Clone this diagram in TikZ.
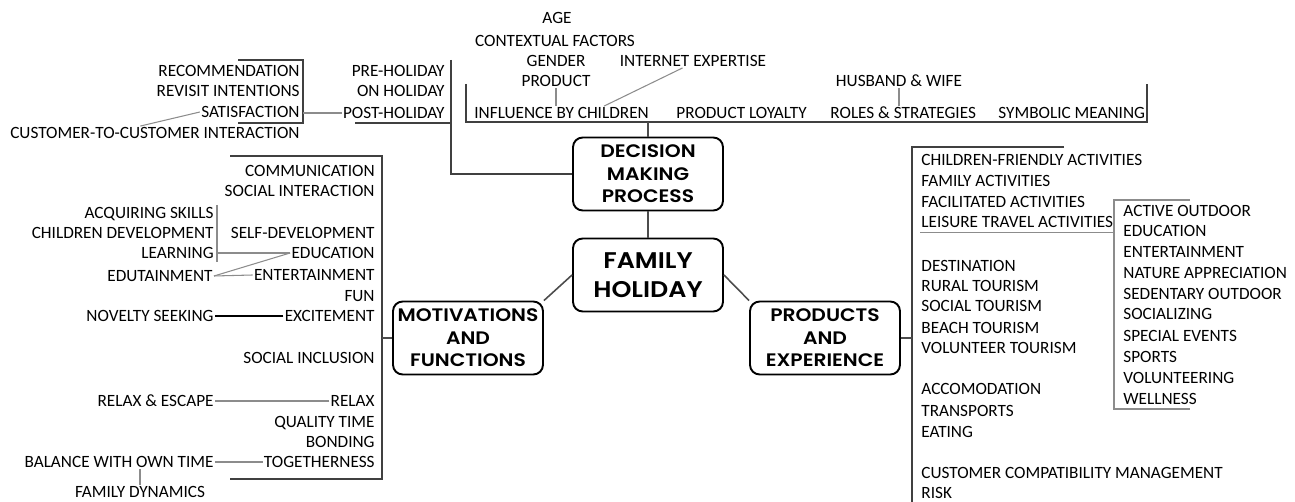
\documentclass[tikz,border=0pt]{standalone}
\usepackage{fontspec}
\setmainfont{Carlito}
\newfontfamily\topicfont[FakeStretch=1.12, BoldFont={Poppins SemiBold}]{Poppins}
\usetikzlibrary{calc}

\tikzset{
  topic/.style={draw=black, line width=1.1pt, rounded corners=5.5pt, align=center,
    inner sep=1pt, minimum width=3.0cm, minimum height=1.46cm,
    font=\topicfont\bfseries\fontsize{10.3}{12.8}\selectfont},
  leaf/.style={inner sep=0.6pt, text height=6.3pt, text depth=0pt,
    font=\fontsize{9.8}{11}\selectfont},
  bracket/.style={draw=black!75, line width=0.85pt},
  branch/.style={draw=black!70, line width=0.9pt},
  link/.style={draw=black!45, line width=0.6pt}
}

\begin{document}
\begin{tikzpicture}[x=0.02cm, y=-0.02cm]
    \useasboundingbox (0,0) rectangle (1295,502);

    % central topics
    \node[topic] (decision) at (648,174) {DECISION\\MAKING\\PROCESS};
    \node[topic, font=\topicfont\bfseries\fontsize{12.9}{16.5}\selectfont] (family) at (648,275) {FAMILY\\HOLIDAY};
    \node[topic] (motiv) at (468,338) {MOTIVATIONS\\AND\\FUNCTIONS};
    \node[topic] (prod) at (825,338) {PRODUCTS\\AND\\EXPERIENCE};

    \draw[branch] (decision) -- (family);
    \draw[branch] (family.west) -- (motiv.north east);
    \draw[branch] (family.east) -- (prod.north west);

    % holiday phases
    \node[leaf, anchor=east] (pre) at (446,71) {PRE-HOLIDAY};
    \node[leaf, anchor=east] (onhol) at (446,91) {ON HOLIDAY};
    \node[leaf, anchor=east] (post) at (446,113) {POST-HOLIDAY};
    \coordinate (phasebr) at (451,60);
    \draw[bracket] (355,123) -- (phasebr |- 0,123);
    \draw[bracket] (phasebr) |- (decision.west);

    % after the holiday
    \node[leaf, anchor=east] (recomm) at (301,71) {RECOMMENDATION};
    \node[leaf, anchor=east] (revisit) at (301,91) {REVISIT INTENTIONS};
    \node[leaf, anchor=east] (satisf) at (301,112) {SATISFACTION};
    \node[leaf, anchor=east] (ctoc) at (301,133) {CUSTOMER-TO-CUSTOMER INTERACTION};
    \coordinate (postbr) at (303,60);
    \draw[bracket] (238,60) -- (postbr) -- (303,123) -- (238,123);
    \draw[link] (post.west) -- (post.west -| postbr);
    \draw[link] (satisf.west) -- ($(ctoc.north west)!0.45!(ctoc.north east)$);

    % what the decision depends on
    \node[leaf, anchor=west] (influence) at (473,113) {INFLUENCE BY CHILDREN};
    \node[leaf, anchor=west] (loyalty) at (675,113) {PRODUCT LOYALTY};
    \node[leaf, anchor=west] (roles) at (829,113) {ROLES \& STRATEGIES};
    \node[leaf, anchor=west] (symbolic) at (997,113) {SYMBOLIC MEANING};
    \coordinate (topbar) at (466,122);
    \draw[bracket] (466,84) -- (topbar) -- (1147,122) -- (1147,84);
    \draw[branch] (decision.north) -- (decision.north |- topbar);

    \node[leaf] (age) at (557,18) {AGE};
    \node[leaf] (context) at (555,41) {CONTEXTUAL FACTORS};
    \node[leaf] (gender) at (556,61) {GENDER};
    \node[leaf] (product) at (556,81) {PRODUCT};
    \node[leaf] (internet) at (693,61) {INTERNET EXPERTISE};
    \node[leaf] (husband) at (899,81) {HUSBAND \& WIFE};
    \draw[link] (product.south) -- (product.south |- influence.north);
    \draw[link] ($(influence.north west)!0.74!(influence.north east)$) -- ($(internet.south west)!0.43!(internet.south east)$);
    \draw[link] (husband.south) -- (husband.south |- roles.north);

    % motivations and functions
    \node[leaf, anchor=east] (communic) at (376,171) {COMMUNICATION};
    \node[leaf, anchor=east] (socinter) at (376,191) {SOCIAL INTERACTION};
    \node[leaf, anchor=east] (selfdev) at (376,233) {SELF-DEVELOPMENT};
    \node[leaf, anchor=east] (educ) at (376,253) {EDUCATION};
    \node[leaf, anchor=east] (entert) at (376,275) {ENTERTAINMENT};
    \node[leaf, anchor=east] (fun) at (376,296) {FUN};
    \node[leaf, anchor=east] (excite) at (376,316) {EXCITEMENT};
    \node[leaf, anchor=east] (socincl) at (376,358) {SOCIAL INCLUSION};
    \node[leaf, anchor=east] (relax) at (376,401) {RELAX};
    \node[leaf, anchor=east] (quality) at (376,422) {QUALITY TIME};
    \node[leaf, anchor=east] (bonding) at (376,442) {BONDING};
    \node[leaf, anchor=east] (together) at (376,462) {TOGETHERNESS};
    \coordinate (motivbr) at (382,156);
    \draw[bracket] (230,156) -- (motivbr) -- (382,479) -- (230,479);
    \draw[branch] (motiv.west) -- (motiv.west -| motivbr);

    \node[leaf, anchor=east] (acquire) at (215,213) {ACQUIRING SKILLS};
    \node[leaf, anchor=east] (childdev) at (215,233) {CHILDREN DEVELOPMENT};
    \node[leaf, anchor=east] (learning) at (215,253) {LEARNING};
    \node[leaf, anchor=east] (edutain) at (214,276) {EDUTAINMENT};
    \node[leaf, anchor=east] (novelty) at (215,316) {NOVELTY SEEKING};
    \node[leaf, anchor=east] (escape) at (215,401) {RELAX \& ESCAPE};
    \node[leaf, anchor=east] (balance) at (215,462) {BALANCE WITH OWN TIME};
    \node[leaf] (dynamics) at (140,492) {FAMILY DYNAMICS};
    \coordinate (learnbr) at (217,205);
    \draw[link] (learnbr) -- (217,262);
    \draw[link] (educ.west) -- (educ.west -| learnbr);
    \draw[link] (educ.west) -- (edutain.east);
    \draw[link] (entert.west) -- (edutain.east);
    \draw[black, line width=0.7pt] (excite.west) -- (novelty.east);
    \draw[link] (relax.west) -- (escape.east);
    \draw[link] (together.west) -- (balance.east);
    \draw[link] (dynamics.north) -- (dynamics.north |- balance.south);

    % products and experience
    \node[leaf, anchor=west] (chfriend) at (920,160) {CHILDREN-FRIENDLY ACTIVITIES};
    \node[leaf, anchor=west] (famact) at (920,181) {FAMILY ACTIVITIES};
    \node[leaf, anchor=west] (facil) at (920,202) {FACILITATED ACTIVITIES};
    \node[leaf, anchor=west] (leisure) at (920,222) {LEISURE TRAVEL ACTIVITIES};
    \node[leaf, anchor=west] (destin) at (920,266) {DESTINATION};
    \node[leaf, anchor=west] (rural) at (920,286) {RURAL TOURISM};
    \node[leaf, anchor=west] (social) at (920,306) {SOCIAL TOURISM};
    \node[leaf, anchor=west] (beach) at (920,328) {BEACH TOURISM};
    \node[leaf, anchor=west] (volunteer) at (920,348) {VOLUNTEER TOURISM};
    \node[leaf, anchor=west] (accom) at (920,389) {ACCOMODATION};
    \node[leaf, anchor=west] (transp) at (920,411) {TRANSPORTS};
    \node[leaf, anchor=west] (eating) at (920,432) {EATING};
    \node[leaf, anchor=west] (ccm) at (920,473) {CUSTOMER COMPATIBILITY MANAGEMENT};
    \node[leaf, anchor=west] (risk) at (920,493) {RISK};
    \coordinate (prodbr) at (912,147);
    \draw[bracket] (1064,147) -- (prodbr) -- (912,502);
    \draw[branch] (prod.east) -- (prod.east -| prodbr);

    \node[leaf, anchor=west] (active) at (1122,211) {ACTIVE OUTDOOR};
    \node[leaf, anchor=west] (educact) at (1122,231) {EDUCATION};
    \node[leaf, anchor=west] (entact) at (1122,252) {ENTERTAINMENT};
    \node[leaf, anchor=west] (nature) at (1122,273) {NATURE APPRECIATION};
    \node[leaf, anchor=west] (sedent) at (1122,294) {SEDENTARY OUTDOOR};
    \node[leaf, anchor=west] (socializ) at (1122,314) {SOCIALIZING};
    \node[leaf, anchor=west] (special) at (1122,336) {SPECIAL EVENTS};
    \node[leaf, anchor=west] (sports) at (1122,357) {SPORTS};
    \node[leaf, anchor=west] (volact) at (1122,378) {VOLUNTEERING};
    \node[leaf, anchor=west] (wellness) at (1122,399) {WELLNESS};
    \coordinate (leisbr) at (1114,200);
    \draw[link] (1190,200) -- (leisbr) -- (1114,409) -- (1190,409);
    \draw[link] ([yshift=-2pt]leisure.south west) -- ([yshift=-2pt]leisure.south west -| leisbr);
\end{tikzpicture}
\end{document}
